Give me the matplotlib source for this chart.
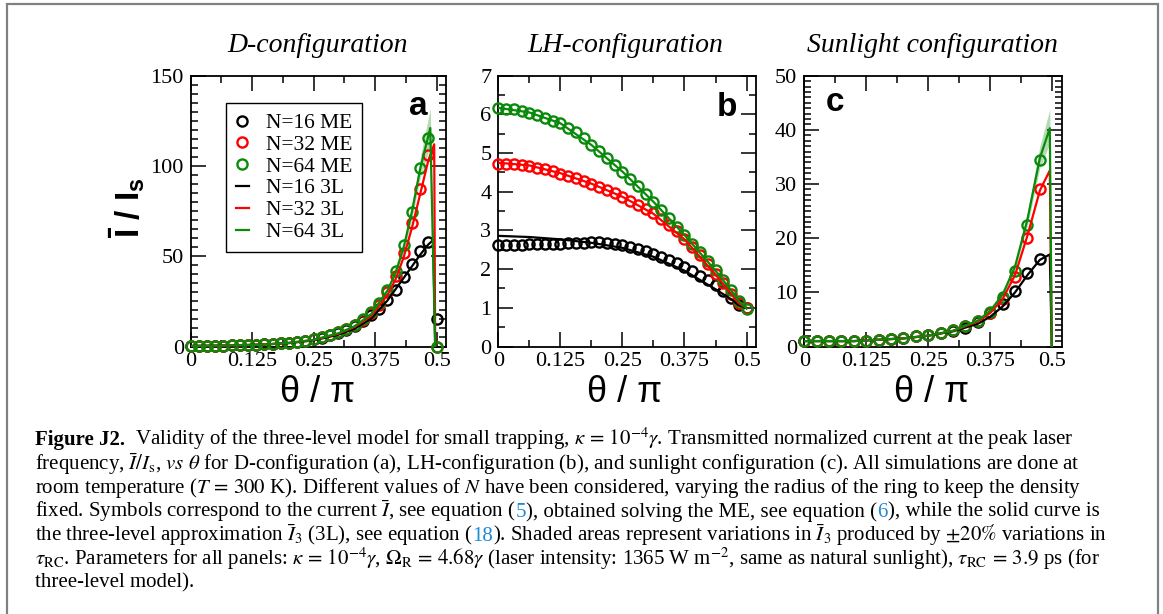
import matplotlib
matplotlib.use("Agg")
import matplotlib.pyplot as plt
from matplotlib.ticker import MultipleLocator, FixedLocator
from matplotlib.patches import Rectangle
from matplotlib.offsetbox import TextArea, HPacker, AnnotationBbox

plt.rcParams['font.family'] = ['Liberation Serif', 'DejaVu Serif']
plt.rcParams['mathtext.fontset'] = 'stix'
plt.rcParams['mathtext.rm'] = 'Liberation Sans'
plt.rcParams['mathtext.bf'] = 'Liberation Sans:bold'
plt.rcParams['mathtext.it'] = 'Liberation Sans:italic'

# ---------------- data ----------------
series_labels = ["N=16", "N=32", "N=64"]
series_colors = ["#000000", "#ff0000", "#0a8a0a"]

# Panel a: D-configuration, ME points (theta/pi step 1/60)
a_theta = [i / 60 for i in range(31)]
a_me_16 = [0.35, 0.37, 0.4, 0.45, 0.5, 0.58, 0.68, 0.8, 0.95, 1.15, 1.4, 1.7, 2.1, 2.6, 3.2,
           3.9, 4.9, 6.1, 7.6, 9.4, 11.6, 14.3, 17.5, 20.9, 25.9, 31.5, 38.5, 45.9, 52.9, 57.9, 15.0]
a_me_32 = [0.35, 0.37, 0.4, 0.45, 0.5, 0.58, 0.68, 0.8, 0.95, 1.15, 1.4, 1.7, 2.1, 2.6, 3.2,
           4.0, 5.0, 6.3, 7.8, 9.6, 12.0, 14.8, 18.5, 23.0, 30.0, 38.8, 51.8, 68.4, 87.5, 106.0, 0.0]
a_me_64 = [0.35, 0.37, 0.4, 0.45, 0.5, 0.58, 0.68, 0.8, 0.95, 1.15, 1.4, 1.7, 2.1, 2.6, 3.2,
           4.0, 5.0, 6.3, 7.8, 9.6, 12.0, 15.0, 19.0, 24.0, 31.5, 41.8, 56.0, 74.5, 98.6, 115.5, 0.0]
# Panel a: 3L curves
a_3l_x_16 = [0, 0.05, 0.1, 0.15, 0.2, 0.25, 0.3, 0.333, 0.367, 0.4, 0.433, 0.467, 0.483, 0.493, 0.497]
a_3l_y_16 = [0.3, 0.45, 0.7, 1.1, 1.9, 3.4, 6.5, 9.8, 15.5, 25.5, 38.0, 51.0, 56.5, 59.0, 0.0]
a_3l_x_32 = [0, 0.05, 0.1, 0.15, 0.2, 0.25, 0.3, 0.333, 0.367, 0.4, 0.417, 0.433, 0.45, 0.467, 0.483, 0.495, 0.497]
a_3l_y_32 = [0.3, 0.45, 0.7, 1.1, 2.0, 3.6, 7.0, 10.8, 17.0, 28.5, 37.5, 49.5, 66.0, 85.0, 103.0, 112.0, 0.0]
a_3l_x_64 = [0, 0.05, 0.1, 0.15, 0.2, 0.25, 0.3, 0.333, 0.367, 0.4, 0.417, 0.433, 0.45, 0.467, 0.487, 0.497]
a_3l_y_64 = [0.3, 0.45, 0.7, 1.1, 2.0, 3.7, 7.3, 11.2, 18.0, 31.0, 41.0, 55.0, 75.0, 99.0, 121.0, 0.0]
a_band_x = [0.4, 0.433, 0.45, 0.467, 0.487, 0.497]
a_band_lo = [29.5, 52.5, 71.0, 94.0, 111.0, 0.0]
a_band_hi = [32.5, 57.5, 79.0, 105.0, 132.0, 0.0]

# Panel b: LH-configuration, ME points (theta/pi step 1/64)
b_theta = [i / 64 for i in range(33)]
b_me_16 = [2.62, 2.62, 2.63, 2.63, 2.64, 2.64, 2.65, 2.65, 2.66, 2.67, 2.67, 2.68, 2.69, 2.69, 2.68, 2.66,
           2.63, 2.58, 2.53, 2.47, 2.40, 2.32, 2.24, 2.15, 2.05, 1.94, 1.83, 1.72, 1.60, 1.44, 1.26, 1.07, 1.0]
b_me_32 = [4.73, 4.73, 4.72, 4.70, 4.66, 4.62, 4.58, 4.53, 4.47, 4.41, 4.35, 4.28, 4.21, 4.13, 4.05, 3.96,
           3.87, 3.77, 3.67, 3.56, 3.44, 3.30, 3.15, 2.98, 2.79, 2.57, 2.36, 2.12, 1.88, 1.63, 1.37, 1.12, 1.0]
b_me_64 = [6.16, 6.15, 6.13, 6.09, 6.04, 5.98, 5.91, 5.84, 5.77, 5.66, 5.55, 5.39, 5.21, 5.05, 4.88, 4.70,
           4.52, 4.33, 4.14, 3.94, 3.74, 3.52, 3.32, 3.10, 2.88, 2.65, 2.43, 2.20, 1.97, 1.71, 1.45, 1.17, 0.98]
b_3l_x = [0, 0.0625, 0.125, 0.1875, 0.25, 0.3125, 0.375, 0.4375, 0.469, 0.484, 0.5]
b_3l_16 = [2.86, 2.83, 2.77, 2.68, 2.55, 2.32, 1.96, 1.48, 1.22, 1.07, 1.0]
b_3l_32 = [4.75, 4.68, 4.48, 4.21, 3.87, 3.43, 2.77, 1.86, 1.36, 1.12, 1.0]
b_3l_64 = [6.17, 6.05, 5.77, 5.21, 4.52, 3.74, 2.88, 1.96, 1.45, 1.18, 0.98]

# Panel c: Sunlight configuration, ME points (theta/pi step 0.025)
c_theta = [i * 0.025 for i in range(20)]
c_me_16 = [1.0, 0.95, 0.95, 1.0, 1.05, 1.1, 1.25, 1.42, 1.6, 1.9, 2.2, 2.45, 2.9, 3.5, 4.6, 6.1, 7.8, 10.3, 13.5, 16.1]
c_me_32 = [1.0, 0.95, 0.95, 1.0, 1.05, 1.1, 1.25, 1.42, 1.6, 1.9, 2.2, 2.45, 3.0, 3.7, 4.7, 6.2, 8.7, 12.9, 20.1, 29.1]
c_me_64 = [1.0, 0.95, 0.95, 1.0, 1.05, 1.1, 1.25, 1.42, 1.6, 1.9, 2.2, 2.45, 3.0, 3.7, 4.8, 6.4, 9.1, 14.0, 22.4, 34.4]
c_3l_x = [0, 0.1, 0.2, 0.25, 0.3, 0.35, 0.375, 0.4, 0.425, 0.45, 0.475, 0.495, 0.499]
c_3l_16 = [1.0, 1.0, 1.5, 2.0, 2.8, 4.2, 5.5, 7.4, 10.0, 13.2, 16.0, 17.0, 0.0]
c_3l_32 = [1.0, 1.0, 1.5, 2.0, 2.9, 4.6, 6.2, 8.8, 13.2, 20.5, 28.8, 32.5, 0.0]
c_3l_64 = [1.0, 1.0, 1.5, 2.0, 2.9, 4.8, 6.6, 9.6, 14.8, 23.5, 34.8, 40.3, 0.0]
c_band_x = [0.4, 0.425, 0.45, 0.475, 0.495, 0.499]
c_band_lo = [9.3, 14.2, 22.3, 33.0, 37.5, 0.0]
c_band_hi = [9.9, 15.4, 24.8, 37.0, 43.8, 0.0]

panel_titles = ["D-configuration", "LH-configuration", "Sunlight configuration"]
panel_letters = ["a", "b", "c"]
x_ticks = [0, 0.125, 0.25, 0.375, 0.5]
x_tick_labels = ["0", "0.125", "0.25", "0.375", "0.5"]

# ---------------- figure ----------------
W, H = 1163, 614
fig = plt.figure(figsize=(W / 100, H / 100), dpi=100)

def px_axes(l, r, t, b):
    return fig.add_axes([l / W, 1 - b / H, (r - l) / W, (b - t) / H])

ax_a = px_axes(190.7, 446.0, 75.7, 346.5)
ax_b = px_axes(498.3, 756.0, 75.7, 346.5)
ax_c = px_axes(804.3, 1061.7, 75.7, 346.5)
axes = [ax_a, ax_b, ax_c]

mk = dict(marker='o', ls='none', mfc='none', ms=7.3, mew=1.7, clip_on=False, zorder=3)
lw = 1.6

# panel a
ax_a.fill_between(a_band_x, a_band_lo, a_band_hi, color=series_colors[2], alpha=0.3, lw=0, zorder=2)
for y, c, lab in zip([a_me_16, a_me_32, a_me_64], series_colors, series_labels):
    ax_a.plot(a_theta, y, color=c, label=lab + " ME", **mk)
for (x, y), c, lab in zip([(a_3l_x_16, a_3l_y_16), (a_3l_x_32, a_3l_y_32), (a_3l_x_64, a_3l_y_64)],
                          series_colors, series_labels):
    ax_a.plot(x, y, color=c, lw=lw, label=lab + " 3L", zorder=4)

# panel b
for y, c in zip([b_me_16, b_me_32, b_me_64], series_colors):
    ax_b.plot(b_theta, y, color=c, **mk)
for y, c in zip([b_3l_16, b_3l_32, b_3l_64], series_colors):
    ax_b.plot(b_3l_x, y, color=c, lw=lw, zorder=4)

# panel c
ax_c.fill_between(c_band_x, c_band_lo, c_band_hi, color=series_colors[2], alpha=0.3, lw=0, zorder=2)
for y, c in zip([c_me_16, c_me_32, c_me_64], series_colors):
    ax_c.plot(c_theta, y, color=c, **mk)
for y, c in zip([c_3l_16, c_3l_32, c_3l_64], series_colors):
    ax_c.plot(c_3l_x, y, color=c, lw=lw, zorder=4)

ylims = [(0, 150), (0, 7), (0, 50)]
ymaj = [50, 1, 10]
ymin = [5, 0.5, 1]
for ax, yl, ma, mi in zip(axes, ylims, ymaj, ymin):
    ax.set_xlim(0, 0.519)
    ax.set_ylim(*yl)
    ax.xaxis.set_major_locator(FixedLocator(x_ticks))
    ax.set_xticklabels(x_tick_labels)
    ax.xaxis.set_minor_locator(MultipleLocator(0.0625))
    ax.yaxis.set_major_locator(MultipleLocator(ma))
    ax.yaxis.set_minor_locator(MultipleLocator(mi))
    ax.tick_params(which='both', direction='in', top=True, right=True, width=1.1, color='black')
    ax.tick_params(which='major', length=11, labelsize=16)
    ax.tick_params(which='minor', length=5)
    ax.tick_params(axis='x', which='major', pad=4)
    ax.tick_params(axis='y', which='major', pad=5)
    for s in ax.spines.values():
        s.set_linewidth(1.3)

# panel letters
for ax, letter, pos in zip(axes, panel_letters, [(0.89, 0.885), (0.887, 0.882), (0.119, 0.9)]):
    ax.text(pos[0], pos[1], letter, transform=ax.transAxes, ha='center', va='center',
            fontsize=24, fontweight='bold', family='Liberation Sans', zorder=6)

# legend
leg = ax_a.legend(loc='upper left', bbox_to_anchor=(0.138, 0.898), borderaxespad=0,
                  fontsize=15.5, frameon=True, fancybox=False, framealpha=1, edgecolor='black',
                  labelspacing=0.08, handlelength=0.6, handletextpad=0.8, borderpad=0.45,
                  numpoints=1)
leg.get_frame().set_linewidth(1.0)

# titles and axis labels
for cx, t in zip([318, 625, 932], panel_titles):
    fig.text(cx / W, 1 - 45 / H, t, ha='center', va='center', fontsize=20, style='italic')
for cx in [318, 625, 932]:
    fig.text(cx / W, 1 - 393 / H, "\u03b8 / \u03c0", ha='center', va='center', fontsize=26,
             family='Liberation Sans')
fig.text(127 / W, 1 - 208 / H, r'$\mathbf{\bar{I}\ /\ I_s}$', ha='center', va='center',
         rotation=90, fontsize=24, math_fontfamily='custom')

# caption
blue = '#1a8ad4'
cap_size = 15.0
caption_lines = [
    [("Figure J2.", 'k', 'bold'),
     (r"  Validity of the three-level model for small trapping, $\kappa\, =\, 10^{-4}\gamma$. Transmitted normalized current at the peak laser", 'k', 'normal')],
    [(r"frequency, $\bar{I}/I_{\rm s}$, $vs$ $\theta$ for D-configuration (a), LH-configuration (b), and sunlight configuration (c). All simulations are done at", 'k', 'normal')],
    [(r"room temperature ($T\, =\, 300$ K). Different values of $N$ have been considered, varying the radius of the ring to keep the density", 'k', 'normal')],
    [(r"fixed. Symbols correspond to the current $\bar{I}$, see equation (", 'k', 'normal'), ("5", blue, 'normal'),
     ("), obtained solving the ME, see equation (", 'k', 'normal'), ("6", blue, 'normal'),
     ("), while the solid curve is", 'k', 'normal')],
    [(r"the three-level approximation $\bar{I}_3$ (3L), see equation (", 'k', 'normal'), ("18", blue, 'normal'),
     (r"). Shaded areas represent variations in $\bar{I}_3$ produced by $\pm 20\%$ variations in", 'k', 'normal')],
    [(r"$\tau_{\rm RC}$. Parameters for all panels: $\kappa\, =\, 10^{-4}\gamma$, $\Omega_{\rm R}\, =\, 4.68\gamma$ (laser intensity: 1365 W m$^{-2}$, same as natural sunlight), $\tau_{\rm RC}\, =\, 3.9$ ps (for", 'k', 'normal')],
    [("three-level model).", 'k', 'normal')],
]
line_y = [439, 464, 487.5, 511, 535, 559, 583]
for parts, y in zip(caption_lines, line_y):
    children = [TextArea(s, textprops=dict(color=c, fontsize=cap_size, fontweight=w))
                for s, c, w in parts]
    pack = HPacker(children=children, pad=0, sep=0, align='baseline')
    ab = AnnotationBbox(pack, (35, H - y), xycoords='figure pixels', box_alignment=(0, 0.5),
                        frameon=False, pad=0)
    fig.add_artist(ab)

# outer frame
fig.add_artist(Rectangle((6.5 / W, -0.02), (1158 - 6.5) / W, (H - 4) / H + 0.02,
                         transform=fig.transFigure, fill=False, edgecolor='#808080', lw=1.6))

fig.savefig("out.png", dpi=100)
